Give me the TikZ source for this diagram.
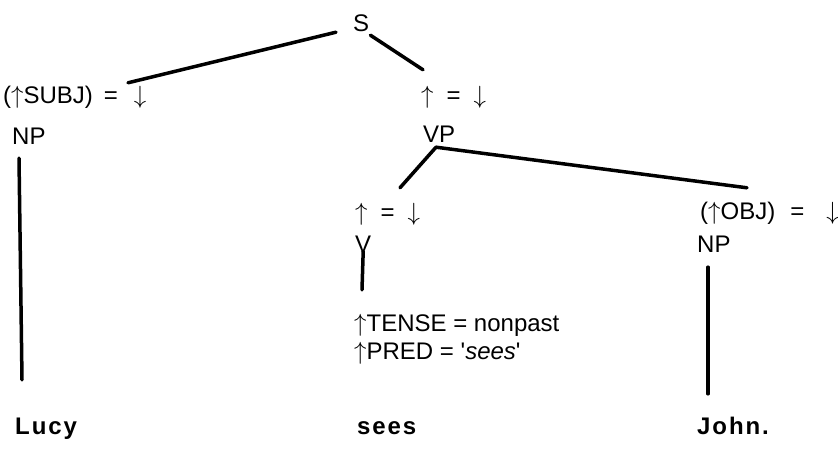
\documentclass[tikz,border=0pt]{standalone}
\usepackage{fontspec}
\setmainfont{Liberation Sans}

\newcommand{\upar}{$\uparrow$}
\newcommand{\dnar}{$\downarrow$}

\begin{document}
\begin{tikzpicture}[x=1pt,y=-1pt,
  lbl/.style={anchor=base west,inner sep=0pt,text height=17pt,text depth=5pt,font=\fontsize{24}{28}\selectfont},
  word/.style={lbl,font=\fontsize{24}{28}\selectfont\bfseries\addfontfeatures{LetterSpace=8}},
  branch/.style={line width=3.5pt,line cap=round,line join=round}]
  \useasboundingbox (0,0) rectangle (838,449);
  % categories and annotations
  \node[lbl] (s) at (353,32) {S};
  \node[lbl] (subjeq) at (3,104) {(\upar SUBJ)\hspace{11pt}=\hspace{16pt}\dnar};
  \node[lbl] (np1) at (12,145) {NP};
  \node[lbl] (vpeq) at (421,104) {\upar\hspace{13pt}=\hspace{13pt}\dnar};
  \node[lbl] (vp) at (423,143) {VP};
  \node[lbl] (veq) at (355,221) {\upar\hspace{13pt}=\hspace{13pt}\dnar};
  \node[lbl] (v) at (355,253) {V};
  \node[lbl] (objeq) at (700,220) {(\upar OBJ)\hspace{15pt}=\hspace{22pt}\dnar};
  \node[lbl] (np2) at (697,253) {NP};
  \node[lbl] (tense) at (354,331) {\upar TENSE = nonpast};
  \node[lbl] (pred) at (354,359) {\upar PRED = \textquotesingle\textit{sees}\textquotesingle};
  % the words
  \foreach \x/\w/\nm in {15/Lucy/lucy,357/sees/sees,697/John./john}{
    \node[word] (\nm) at (\x,434) {\w};
  }
  % branches
  \draw[branch] ([shift={(-17,-5)}]s.south west) -- ([shift={(125,-4)}]subjeq.north west);
  \draw[branch] ([shift={(1,-2)}]s.south east) -- ([shift={(2,-17)}]vpeq.north west);
  \draw[branch] ([shift={(45,-16)}]veq.north west) -- ([shift={(13,-1)}]vp.south west)
    -- ([shift={(47,-15)}]objeq.north west);
  \draw[branch] ([shift={(0,-7)}]v.south) -- ([shift={(8,-24)}]tense.north west);
  \draw[branch] ([shift={(7,8)}]np1.south west) -- ([shift={(7,-37)}]lucy.north west);
  \draw[branch] ([shift={(11,9)}]np2.south west) -- ([shift={(11,-23)}]john.north west);
\end{tikzpicture}
\end{document}
